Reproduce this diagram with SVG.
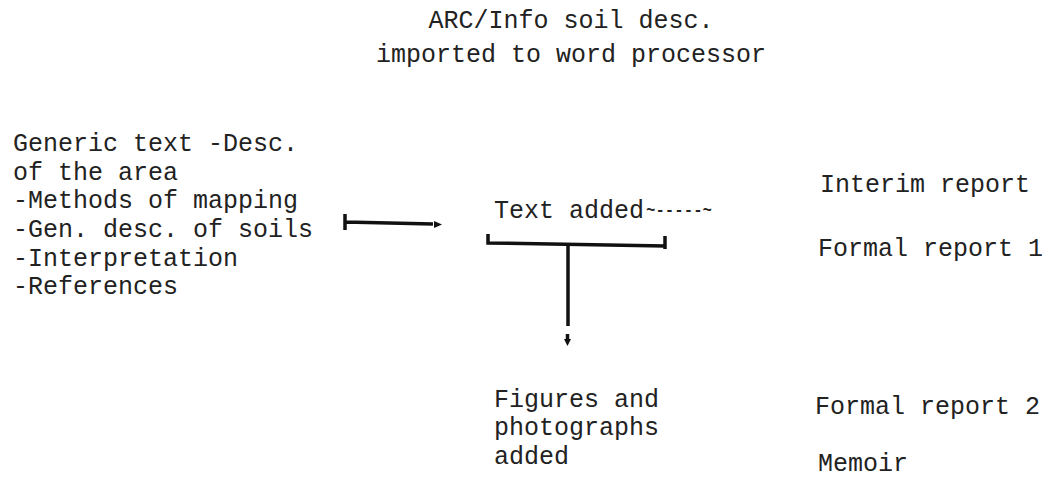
<svg xmlns="http://www.w3.org/2000/svg" width="1048" height="479" viewBox="0 0 1048 479">
<defs>
<style>
text{font-family:"Liberation Mono","Courier New",monospace;font-size:25px;fill:#222}
.ln{stroke:#111;stroke-width:3.5;fill:none}
</style>
</defs>
<rect width="1048" height="479" fill="#fff"/>
<g id="title"><text x="571" y="28" text-anchor="middle">ARC/Info soil desc.</text><text x="571" y="62" text-anchor="middle">imported to word processor</text></g>
<g id="generic"><text x="13" y="151">Generic text -Desc.</text><text x="13" y="180">of the area</text><text x="13" y="208">-Methods of mapping</text><text x="13" y="237">-Gen. desc. of soils</text><text x="13" y="266">-Interpretation</text><text x="13" y="294">-References</text></g>
<g id="textadded"><text x="494" y="218">Text added<tspan x="646" textLength="66" lengthAdjust="spacingAndGlyphs">~-----~</tspan></text></g>
<g id="figures"><text x="494" y="407">Figures and</text><text x="494" y="435">photographs</text><text x="494" y="464">added</text></g>
<g id="interim"><text x="820" y="192">Interim report</text></g>
<g id="formal1"><text x="818" y="256">Formal report 1</text></g>
<g id="formal2"><text x="815" y="414">Formal report 2</text></g>
<g id="memoir"><text x="818" y="471">Memoir</text></g>
<g id="connectors">
<path class="ln" d="M345 214V230M345 222L433 224"/>
<path d="M434 221L442 224.5L434 228Z" fill="#111"/>
<path class="ln" d="M488 234V243L665 246M665 236V249"/>
<path class="ln" d="M568 244V326"/>
<path d="M564 339L571 339L567.5 346Z" fill="#111"/><path class="ln" stroke-width="2" d="M567.5 334V341"/>
</g>
</svg>
